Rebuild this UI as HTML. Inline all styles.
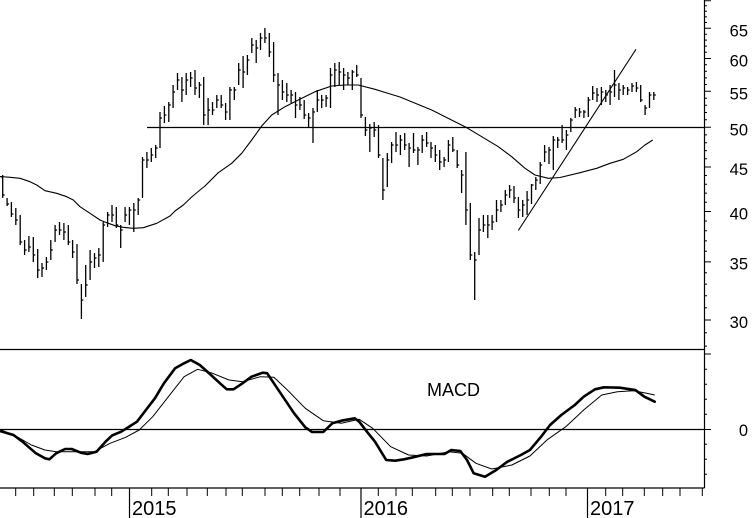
<!DOCTYPE html>
<html><head><meta charset="utf-8"><style>
html,body{margin:0;padding:0;background:#fff;}
svg{display:block;}
text{font-family:"Liberation Sans",Arial,sans-serif;fill:#000;}
</style></head><body>
<svg width="752" height="518" viewBox="0 0 752 518" xmlns="http://www.w3.org/2000/svg">
<rect width="752" height="518" fill="#fff"/>
<path fill="none" stroke="#000" stroke-width="1.3" d="M2.7 175V198M2.7 195h2M2.7 177h-2 M7.1 198V206M7.1 204h2 M11.4 202V217M11.4 214h2 M15.8 208V225M15.8 220h2 M20.2 215V245M20.2 242h2 M24.6 240V255M24.6 250h2 M28.9 236V252M28.9 247h2 M33.3 237V262M33.3 255h2 M37.7 249V278M37.7 270h2 M42.0 263V277M42.0 268h2 M46.4 257V270M46.4 262h2 M50.8 240V260M50.8 250h2 M55.1 225V242M55.1 230h2 M59.5 222V235M59.5 230h2 M63.9 223V240M63.9 232h2 M68.3 225V245M68.3 242h2 M72.6 240V258M72.6 252h2 M77.0 244V284M77.0 280h2 M81.4 284V319M81.4 300h2 M85.7 265V297M85.7 285h2 M90.1 250V280M90.1 262h2 M94.5 253V268M94.5 258h2 M98.8 248V267M98.8 255h2 M103.2 222V262M103.2 225h2 M107.6 212V227M107.6 215h2 M112.0 205V222M112.0 215h2 M116.3 207V228M116.3 225h2 M120.7 225V248M120.7 230h2 M125.1 207V222M125.1 215h2 M129.4 207V225M129.4 210h2 M133.8 203V232M133.8 210h2 M138.2 198V215M138.2 200h2 M142.5 157V198M142.5 160h2 M146.9 152V168M146.9 160h2 M151.3 148V162M151.3 155h2 M155.7 145V158M155.7 148h2 M160.0 112V148M160.0 118h2 M164.4 106V123M164.4 115h2 M168.8 102V122M168.8 105h2 M173.1 85V108M173.1 92h2 M177.5 73V90M177.5 80h2 M181.9 77V102M181.9 90h2 M186.2 73V95M186.2 80h2 M190.6 72V87M190.6 78h2 M195.0 70V95M195.0 88h2 M199.4 82V98M199.4 85h2 M203.7 77V125M203.7 115h2 M208.1 98V125M208.1 110h2 M212.5 102V115M212.5 110h2 M216.8 95V108M216.8 100h2 M221.2 95V108M221.2 105h2 M225.6 103V120M225.6 112h2 M229.9 87V120M229.9 90h2 M234.3 87V100M234.3 90h2 M238.7 63V85M238.7 70h2 M243.1 56V88M243.1 72h2 M247.4 55V75M247.4 60h2 M251.8 38V53M251.8 45h2 M256.2 40V63M256.2 48h2 M260.5 33V50M260.5 38h2 M264.9 28V43M264.9 38h2 M269.3 33V57M269.3 52h2 M273.6 42V82M273.6 75h2 M278.0 73V115M278.0 85h2 M282.4 80V100M282.4 92h2 M286.8 83V102M286.8 95h2 M291.1 90V103M291.1 95h2 M295.5 92V118M295.5 105h2 M299.9 97V110M299.9 105h2 M304.2 100V119M304.2 115h2 M308.6 113V128M308.6 118h2 M313.0 108V143M313.0 112h2 M317.3 90V112M317.3 100h2 M321.7 95V108M321.7 100h2 M326.1 95V107M326.1 98h2 M330.5 68V108M330.5 75h2 M334.8 63V87M334.8 70h2 M339.2 62V85M339.2 72h2 M343.6 68V90M343.6 75h2 M347.9 72V85M347.9 78h2 M352.3 70V90M352.3 72h2 M356.7 65V77M356.7 75h2 M361.0 78V118M361.0 115h2 M365.4 117V136M365.4 130h2 M369.8 124V152M369.8 128h2 M374.2 122V137M374.2 130h2 M378.5 125V158M378.5 155h2 M382.9 158V200M382.9 190h2 M387.3 153V187M387.3 160h2 M391.6 142V163M391.6 145h2 M396.0 132V152M396.0 145h2 M400.4 135V155M400.4 140h2 M404.7 133V150M404.7 145h2 M409.1 143V167M409.1 148h2 M413.5 133V153M413.5 150h2 M417.9 147V165M417.9 150h2 M422.2 135V153M422.2 140h2 M426.6 132V147M426.6 143h2 M431.0 142V158M431.0 148h2 M435.3 145V162M435.3 155h2 M439.7 150V170M439.7 162h2 M444.1 157V167M444.1 160h2 M448.4 140V162M448.4 145h2 M452.8 137V152M452.8 150h2 M457.2 150V168M457.2 165h2 M461.6 170V193M461.6 175h2 M465.9 152V225M465.9 210h2 M470.3 203V260M470.3 255h2 M474.7 252V300M474.7 260h2 M479.0 218V255M479.0 230h2 M483.4 215V232M483.4 225h2 M487.8 215V238M487.8 225h2 M492.1 215V230M492.1 222h2 M496.5 200V222M496.5 210h2 M500.9 200V212M500.9 205h2 M505.3 190V205M505.3 195h2 M509.6 185V198M509.6 190h2 M514.0 186V203M514.0 198h2 M518.4 197V218M518.4 210h2 M522.7 200V217M522.7 205h2 M527.1 191V215M527.1 200h2 M531.5 184V204M531.5 185h2 M535.8 177V190M535.8 180h2 M540.2 162V184M540.2 165h2 M544.6 145V162M544.6 152h2 M549.0 147V164M549.0 150h2 M553.3 136V170M553.3 140h2 M557.7 137V148M557.7 140h2 M562.1 125V143M562.1 140h2 M566.4 130V150M566.4 135h2 M570.8 118V132M570.8 120h2 M575.2 107V118M575.2 110h2 M579.5 108V117M579.5 112h2 M583.9 110V118M583.9 112h2 M588.3 97V117M588.3 100h2 M592.7 86V100M592.7 93h2 M597.0 88V102M597.0 95h2 M601.4 87V105M601.4 92h2 M605.8 90V102M605.8 95h2 M610.1 85V105M610.1 92h2 M614.5 70V97M614.5 85h2 M618.9 83V100M618.9 90h2 M623.2 85V95M623.2 88h2 M627.6 87V95M627.6 90h2 M632.0 83V92M632.0 86h2 M636.4 82V92M636.4 88h2 M640.7 85V102M640.7 100h2 M645.1 105V115M645.1 108h2 M649.5 92V108M649.5 95h2 M653.8 92V100M653.8 95h2"/>
<polyline fill="none" stroke="#000" stroke-width="1.1" stroke-linejoin="round" points="0,176.5 10,177.3 20,178.3 30,181.7 36.7,185 45,190.7 56.7,193.3 66.7,196.7 73.3,200 80,206.7 90,213.3 100,220 106.7,222.7 115,225.7 123.3,227.3 133.3,228.3 143.3,227.7 156.7,223.3 170,216 175,211 183.3,205 191.7,197 200,190 205,186 218.3,172.7 231.7,163.3 241.7,153.3 251.7,140 261.7,126 271.7,115 285,106.7 298.3,100 315,91.7 331.7,86 345,85 358.3,85 375,89.3 400,97 431.7,110 455,121.7 465,126.7 481.7,136.7 498.3,146.7 511.7,156.7 525,168.3 535,175 548.3,178.3 560,177.5 580,172.7 596.7,168.3 610,163.3 623.3,159.3 636.7,151.7 645,145 652.7,140"/>
<line x1="147" y1="127.5" x2="704" y2="127.5" stroke="#000" stroke-width="1.2"/>
<line x1="518.3" y1="230.5" x2="636" y2="49.3" stroke="#000" stroke-width="1.1"/>
<line x1="0" y1="349.5" x2="704.5" y2="349.5" stroke="#000" stroke-width="1.2"/>
<line x1="0" y1="429.5" x2="704.5" y2="429.5" stroke="#000" stroke-width="1.2"/>
<polyline fill="none" stroke="#000" stroke-width="1" stroke-linejoin="round" points="0,429.3 18,437.3 31.4,445 44.9,450 56.1,451.7 76.3,451.7 94.3,451.7 110,443.3 125.7,437.3 139.2,430 152.7,416.7 168.4,396.7 184.1,376.7 197.6,369.3 211,372.7 229,380 242.5,381.7 260.4,376.7 273.9,377.3 287.4,390 305.3,408.3 323.3,420.7 341.3,423.3 359.2,419.3 372.7,428.3 390.7,446.7 408.6,455 426.6,456 449,451.7 462.5,453.3 476,463.3 491.7,469 511.9,465 529.9,456 547.8,439.3 565.8,426.7 583.7,410 601.7,395 617.4,391.7 633.1,390.7 646.6,393.3 654.7,395"/>
<polyline fill="none" stroke="#000" stroke-width="2.6" stroke-linejoin="round" stroke-linecap="round" points="0,431 13.5,435 22.5,441.7 35.9,453.3 44.9,458.3 49.4,459.3 56.1,453.3 65.1,449 71.8,449 80.8,452.7 87.6,454 96.5,451.7 105.5,441.7 112.3,435.3 121.2,431.7 130.2,426 137,421.7 145.9,410 154.9,398.3 163.9,383.3 175.1,368.3 184.1,363.3 190.8,360 199.8,365 211,375 220,383.3 226.8,389.3 233.5,389.3 242.5,383.3 251.5,376.7 262.7,372.7 267.2,373.3 273.9,383.3 282.9,396.7 294.1,413.3 305.3,427.3 312.1,432 323.3,432 332.3,423.3 341.3,420.7 354.7,418.3 359.2,421.7 368.2,433.3 375,441.7 386.2,460 395.1,460.7 404.1,459.3 413.1,457.3 426.6,454 444.5,454 451.3,450 460.3,451 467,460 473.7,473.3 485,476.7 496.2,470 507.4,461.7 520.9,455 529.9,450 541.1,436.7 550.1,425 561.3,415 574.8,405 583.7,396.7 595,389.3 604,387.3 619.7,387.7 635.4,390 644.4,396.7 654.7,401.7"/>
<text x="427" y="396" font-size="18">MACD</text>
<line x1="704.5" y1="0" x2="704.5" y2="488" stroke="#000" stroke-width="1.2"/>
<path fill="none" stroke="#000" stroke-width="1" d="M704 346.1h3M704 332.8h3M704 320h7M704 307.7h3M704 295.7h3M704 284.1h3M704 272.8h3M704 261.9h7M704 251.2h3M704 240.9h3M704 230.8h3M704 221h3M704 211.5h7M704 202.2h3M704 193.1h3M704 184.2h3M704 175.5h3M704 167h7M704 158.8h3M704 150.6h3M704 142.7h3M704 134.9h3M704 127.3h7M704 119.8h3M704 112.5h3M704 105.3h3M704 98.3h3M704 91.3h7M704 84.5h3M704 77.9h3M704 71.3h3M704 64.8h3M704 58.5h7M704 52.3h3M704 46.1h3M704 40.1h3M704 34.2h3M704 28.3h7M704 22.5h3M704 16.9h3M704 11.3h3M704 5.8h3M704 0.8h7M704 354h7M704 369.3h3M704 384.3h3M704 399.3h3M704 414.3h3M704 429.5h7M704 444.3h3M704 459.3h3M704 474.3h3"/>
<g font-size="16.5" text-anchor="end">
<text x="748" y="36.5">65</text>
<text x="748" y="66.7">60</text>
<text x="748" y="99.5">55</text>
<text x="748" y="135.5">50</text>
<text x="748" y="175.2">45</text>
<text x="748" y="219.7">40</text>
<text x="748" y="269.5">35</text>
<text x="748" y="328.2">30</text>
<text x="748" y="436">0</text>
</g>
<line x1="0" y1="488" x2="704.5" y2="488" stroke="#000" stroke-width="1.2"/>
<path fill="none" stroke="#000" stroke-width="1" d="M15.7 488v8M33.7 488v8M54.3 488v8M72.3 488v8M95 488v8M111.7 488v8M151.7 488v8M168.3 488v8M187 488v8M207.3 488v8M226 488v8M242.3 488v8M265 488v8M282.3 488v8M299.7 488v8M319 488v8M340 488v8M378.3 488v8M396 488v8M412.3 488v8M435.7 488v8M452.3 488v8M470 488v8M492.7 488v8M509.3 488v8M531 488v8M549.3 488v8M566 488v8M605.7 488v8M622.7 488v8M644.3 488v8M662.7 488v8M680 488v8M702.3 488v8"/>
<path fill="none" stroke="#000" stroke-width="1.2" d="M129.5 488V518M361 488V518M587.5 488V518"/>
<g font-size="20">
<text x="132" y="515">2015</text>
<text x="363.5" y="515">2016</text>
<text x="590" y="515">2017</text>
</g>
</svg>
</body></html>
